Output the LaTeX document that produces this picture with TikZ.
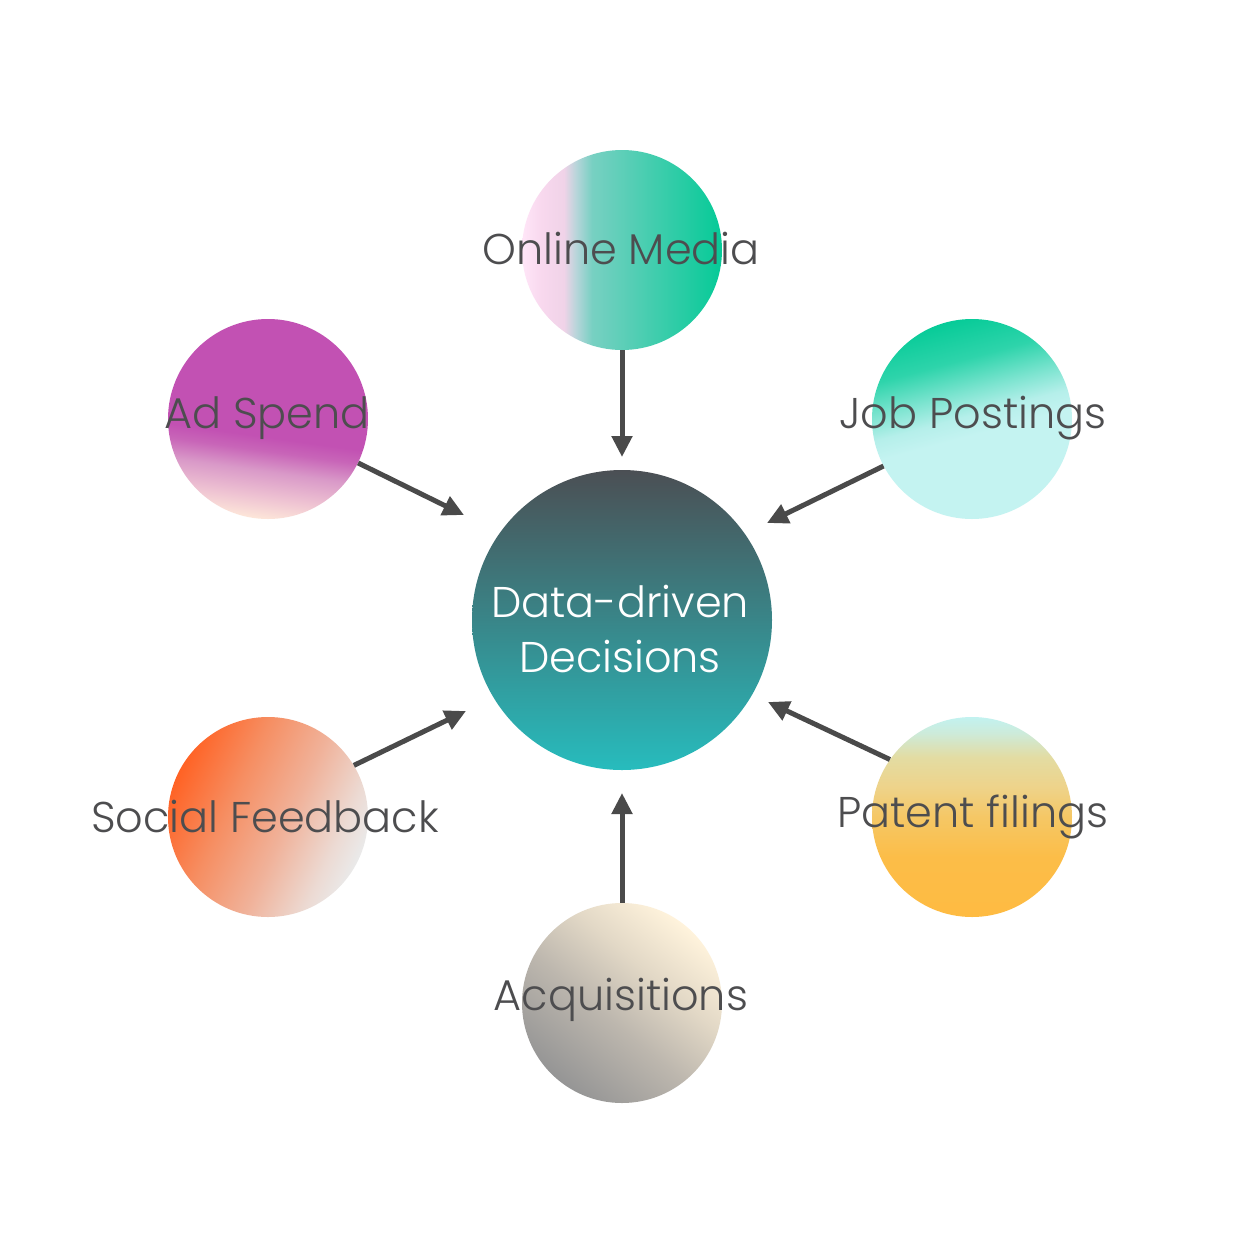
\documentclass[tikz,border=0pt]{standalone}
\usepackage{fontspec}
\setmainfont{Poppins}[UprightFont={* Light}]
\usetikzlibrary{arrows.meta,shadings}
\definecolor{ink}{HTML}{4D4D4F}
\definecolor{arrowc}{HTML}{4A4A4A}
% Online Media (left -> right)
\definecolor{omA}{HTML}{FFE6F8}\definecolor{omB}{HTML}{F8D8EE}\definecolor{omC}{HTML}{F0D3E8}
\definecolor{omD}{HTML}{B8D5DA}\definecolor{omE}{HTML}{78D0C2}\definecolor{omF}{HTML}{05CA97}
\pgfdeclarehorizontalshading{omshade}{100bp}{color(0bp)=(omA); color(25bp)=(omA); color(30bp)=(omB); color(35.5bp)=(omC); color(38.5bp)=(omD); color(42.5bp)=(omE); color(75bp)=(omF); color(100bp)=(omF)}
% Ad Spend (bottom -> top)
\definecolor{adA}{HTML}{FDE6D9}\definecolor{adB}{HTML}{EEC2D2}\definecolor{adC}{HTML}{D999C8}
\definecolor{adD}{HTML}{C865B8}\definecolor{adE}{HTML}{C251B3}
\pgfdeclareverticalshading{adshade}{100bp}{color(0bp)=(adA); color(25bp)=(adA); color(30.5bp)=(adB); color(37bp)=(adC); color(42bp)=(adD); color(45.5bp)=(adE); color(100bp)=(adE)}
% Job Postings (bottom -> top)
\definecolor{jpA}{HTML}{C4F3F1}\definecolor{jpB}{HTML}{B5EFEA}\definecolor{jpC}{HTML}{7DE4D0}
\definecolor{jpD}{HTML}{2ED4AB}\definecolor{jpE}{HTML}{07CB98}
\pgfdeclareverticalshading{jpshade}{100bp}{color(0bp)=(jpA); color(25bp)=(jpA); color(46bp)=(jpA); color(51bp)=(jpB); color(57bp)=(jpC); color(65bp)=(jpD); color(75bp)=(jpE); color(100bp)=(jpE)}
% Social Feedback (left -> right)
\definecolor{sfA}{HTML}{FF6224}\definecolor{sfB}{HTML}{F68E62}\definecolor{sfC}{HTML}{F0B29A}
\definecolor{sfD}{HTML}{ECDAD3}\definecolor{sfE}{HTML}{EAEAEA}
\pgfdeclarehorizontalshading{sfshade}{100bp}{color(0bp)=(sfA); color(25bp)=(sfA); color(40bp)=(sfB); color(55bp)=(sfC); color(68bp)=(sfD); color(75bp)=(sfE); color(100bp)=(sfE)}
% Patent filings (bottom -> top)
\definecolor{pfA}{HTML}{FEBB42}\definecolor{pfB}{HTML}{FCBD48}\definecolor{pfC}{HTML}{F5C765}
\definecolor{pfD}{HTML}{EED38A}\definecolor{pfE}{HTML}{E3DCA3}\definecolor{pfF}{HTML}{CDEBDA}\definecolor{pfG}{HTML}{C2F2F0}
\pgfdeclareverticalshading{pfshade}{100bp}{color(0bp)=(pfA); color(25bp)=(pfA); color(40bp)=(pfB); color(50bp)=(pfC); color(57.5bp)=(pfD); color(65bp)=(pfE); color(71bp)=(pfF); color(75bp)=(pfG); color(100bp)=(pfG)}
% Acquisitions (left -> right, rotated)
\definecolor{aqA}{HTML}{959595}\definecolor{aqB}{HTML}{BDB7AE}\definecolor{aqC}{HTML}{E2D8C6}\definecolor{aqD}{HTML}{FFF3DC}
\pgfdeclarehorizontalshading{aqshade}{100bp}{color(0bp)=(aqA); color(25bp)=(aqA); color(45bp)=(aqB); color(60bp)=(aqC); color(75bp)=(aqD); color(100bp)=(aqD)}
% Center
\definecolor{ctTop}{HTML}{4B4F54}\definecolor{ctBot}{HTML}{27BCBD}
\tikzset{
  bubble/.style={circle, draw=none, inner sep=0pt, minimum size=200pt},
  hub/.style={circle, draw=none, inner sep=0pt, minimum size=300pt, top color=ctTop, bottom color=ctBot},
  lbl/.style={anchor=base, text=ink, font=\fontsize{43}{52}\selectfont, inner sep=0pt},
  hublbl/.style={anchor=base, text=white, font=\fontsize{43}{52}\selectfont, inner sep=0pt},
  arr/.style={draw=arrowc, line width=5pt, -{Triangle[length=21pt,width=20pt]}}
}
\begin{document}
\begin{tikzpicture}[x=1pt,y=-1pt]
\path[use as bounding box, fill=white] (0,0) rectangle (1240,1240);
% circles
\node[bubble, shading=omshade] (om) at (622,250) {};
\node[bubble, shading=adshade, shading angle=-8] (ad) at (268,419) {};
\node[bubble, shading=jpshade, shading angle=15] (jp) at (972,419) {};
\node[hub] (ct) at (622,620) {};
\node[bubble, shading=sfshade, shading angle=-25] (sf) at (268,817) {};
\node[bubble, shading=pfshade] (pf) at (972,817) {};
\node[bubble, shading=aqshade, shading angle=50] (aq) at (622,1003) {};
% arrow tips
\coordinate (omtip) at (622,457);
\coordinate (adtip) at (464,515);
\coordinate (jptip) at (767,523);
\coordinate (sftip) at (466,711);
\coordinate (pftip) at (768,702);
\coordinate (aqtip) at (622,793);
% arrows
\draw[arr] (om.south) -- (omtip);
\draw[arr] (ad.-26) -- (adtip);
\draw[arr] (jp.208) -- (jptip);
\draw[arr] (sf.31) -- (sftip);
\draw[arr] (pf.145.5) -- (pftip);
\draw[arr] (aq.north) -- (aqtip);
% labels
\node[lbl] (omL) at (621,264) {Online Media};
\node[lbl] (adL) at (267,428) {Ad Spend};
\node[lbl] (jpL) at (973,428) {Job Postings};
\node[lbl] (sfL) at (265,832) {Social Feedback};
\node[lbl] (pfL) at (973,827) {Patent filings};
\node[lbl] (aqL) at (621,1010) {Acquisitions};
\node[hublbl] (ct1) at (620,617) {Data-driven};
\node[hublbl] (ct2) at (620,672) {Decisions};
\end{tikzpicture}
\end{document}
